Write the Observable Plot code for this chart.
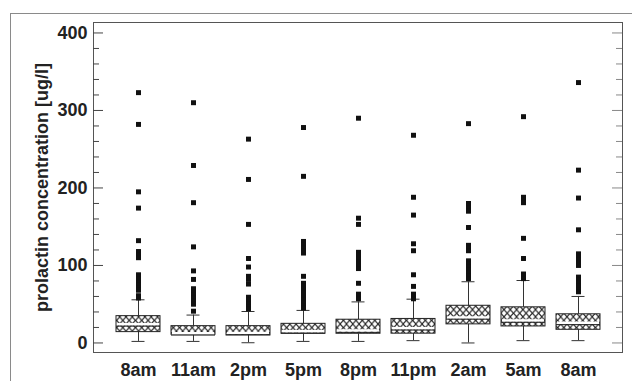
<!DOCTYPE html>
<html>
<head>
<meta charset="utf-8">
<script src="https://cdn.jsdelivr.net/npm/d3@7"></script>
<script src="https://cdn.jsdelivr.net/npm/@observablehq/plot@0.6"></script>
<style>
  html, body { margin: 0; padding: 0; background: white; }
  #wrap { position: relative; width: 632px; height: 381px; overflow: hidden; }
  #outer { position: absolute; left: 10px; top: 13px; width: 700px; height: 500px;
           border-left: 1px solid #8a8a8a; border-top: 1.5px solid #8a8a8a; }
  #chart { position: absolute; left: 0; top: 0; }
</style>
</head>
<body>
<div id="wrap"><div id="outer"></div><div id="chart"></div></div>
<script>
// ---- data ----
const times = ["8am", "11am", "2pm", "5pm", "8pm", "11pm", "2am", "5am", "8am"];
const whiskerLow  = [2, 2, 0.3, 2, 2, 3, 0, 3, 3];
const q1          = [14, 10.6, 9.7, 11.9, 11.9, 12, 24, 21.3, 17];
const median      = [24, 12.5, 13, 15, 16, 19, 33, 29, 26];
const q3          = [34.6, 21.7, 21.7, 24.7, 30, 31, 48, 46, 37];
const whiskerHigh = [55.7, 36, 40.6, 42, 53, 56.5, 79, 80.6, 60];
const outliers = [
  [323, 282, 195, 174, 132, 118, 114, 110, 88, 85, 82, 78, 75, 71, 68, 61, 58],
  [310, 229, 181, 124, 93, 82, 70, 66, 62, 58, 54, 50, 41],
  [263, 211, 153, 109, 98, 86, 82, 76, 59, 56, 53, 50, 47, 44],
  [278, 215, 131, 127, 123, 119, 116, 86, 77, 73, 69, 64, 60, 56, 52, 48, 45],
  [290, 161, 153, 117, 113, 109, 104, 100, 96, 77, 63, 60, 57],
  [268, 188, 165, 128, 119, 88, 73, 63, 60, 57],
  [283, 180, 177, 174, 170, 149, 126, 122, 119, 106, 102, 98, 94, 90, 86, 83],
  [292, 188, 185, 181, 135, 109, 89, 86, 83],
  [336, 223, 187, 146, 115, 111, 107, 103, 100, 85, 81, 77, 73, 69, 66]
];
const majorTicks = [0, 100, 200, 300, 400];
const minorTicks = [20, 40, 60, 80, 120, 140, 160, 180, 220, 240, 260, 280, 320, 340, 360, 380];
const yLabel = "prolactin concentration [ug/l]";

// ---- tables built from the arrays ----
const idx = times.map((_, i) => i);
const boxes = idx.map(i => ({i, lo: whiskerLow[i], q1: q1[i], med: median[i], q3: q3[i], hi: whiskerHigh[i]}));
const pts = outliers.flatMap((arr, i) => arr.map(v => ({i, v})));

const W = 632, H = 381, ML = 93, MR = 10, MT = 22, MB = 29;
const plotW = W - ML - MR;
const ink = "#222";

const svg = Plot.plot({
  width: W, height: H,
  marginLeft: ML, marginRight: MR, marginTop: MT, marginBottom: MB,
  style: {fontFamily: "'Liberation Sans', Arial, sans-serif", fontSize: "18px", fontWeight: "bold", color: ink, background: "transparent"},
  x: {type: "band", domain: idx, paddingInner: 0.206, paddingOuter: 0.378, axis: null},
  y: {domain: [-12.3, 413.5], axis: null},
  marks: [
    Plot.ruleX(boxes, {x: "i", y1: "q3", y2: "hi", stroke: "#333", strokeWidth: 1}),
    Plot.ruleX(boxes, {x: "i", y1: "lo", y2: "q1", stroke: "#333", strokeWidth: 1}),
    Plot.tickY(boxes, {x: "i", y: "hi", stroke: "#333", insetLeft: 15.5, insetRight: 15.5}),
    Plot.tickY(boxes, {x: "i", y: "lo", stroke: "#333", insetLeft: 15.5, insetRight: 15.5}),
    Plot.barY(boxes, {x: "i", y1: "q1", y2: "q3", fill: "url(#xhatch)", stroke: ink, strokeWidth: 1}),
    Plot.tickY(boxes, {x: "i", y: "med", stroke: "white", strokeWidth: 2.5, insetLeft: 1, insetRight: 1}),
    Plot.tickY(boxes, {x: "i", y: "med", stroke: ink, strokeWidth: 1, dy: 1.8}),
    Plot.dot(pts, {x: "i", y: "v", symbol: "square", r: 2.8, fill: "#111", stroke: null}),
    Plot.frame({stroke: "#555", strokeWidth: 1}),
    Plot.ruleY(majorTicks, {y: d => d, stroke: "#444", insetRight: plotW - 10}),
    Plot.ruleY(minorTicks, {y: d => d, stroke: "#444", insetRight: plotW - 6}),
    Plot.ruleY(majorTicks, {y: d => d, stroke: "#888", insetLeft: plotW - 10}),
    Plot.ruleY(minorTicks, {y: d => d, stroke: "#888", insetLeft: plotW - 6}),
    Plot.axisY({ticks: majorTicks, tickSize: 0, tickPadding: 6, label: null, fill: ink}),
    Plot.axisX({domain: idx, tickSize: 0, tickPadding: 11, tickFormat: i => times[i], label: null, fill: ink}),
    Plot.text([yLabel], {frameAnchor: "left", rotate: -90, dx: -51, text: d => d, textAnchor: "middle", lineAnchor: "middle", fill: ink})
  ]
});

const defs = d3.select(svg).insert("defs", ":first-child");
const pat = defs.append("pattern").attr("id", "xhatch")
  .attr("patternUnits", "userSpaceOnUse").attr("width", 6.3).attr("height", 7.2);
pat.append("rect").attr("width", 6.3).attr("height", 7.2).attr("fill", "white");
pat.append("path").attr("d", "M0,0L6.3,7.2M6.3,0L0,7.2").attr("stroke", "#222").attr("stroke-width", 1.1).attr("fill", "none");

document.getElementById("chart").appendChild(svg);
</script>
</body>
</html>
